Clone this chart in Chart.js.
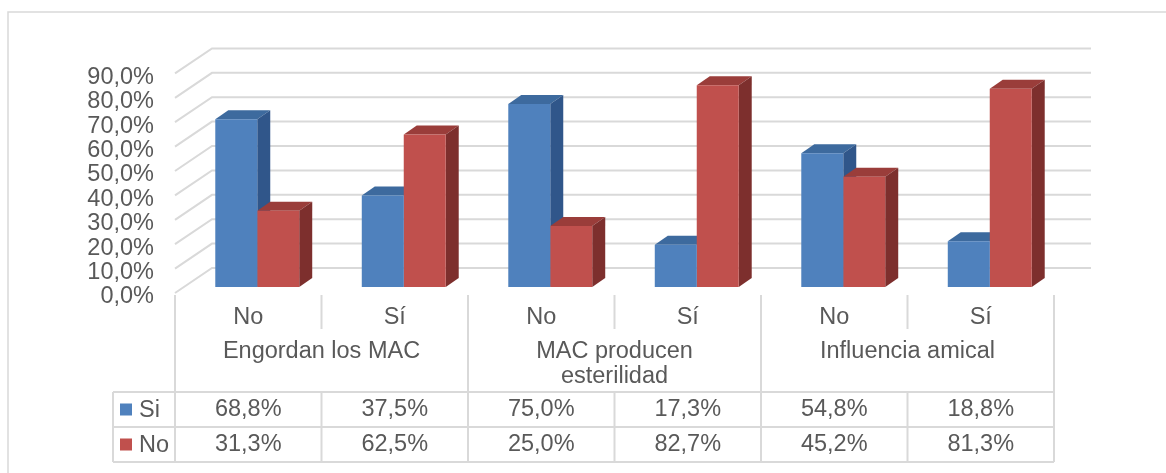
<!DOCTYPE html>
<html>
<head>
<meta charset="utf-8">
<script src="https://cdn.jsdelivr.net/npm/chart.js@4/dist/chart.umd.min.js"></script>
<style>
    body { margin: 0; background: #fff; }
    #wrap { width: 1166px; height: 473px; position: relative; }
</style>
</head>
<body>
<div id="wrap"><canvas id="chart"></canvas></div>
<script>
// Data
const categories = ['No', 'Sí', 'No', 'Sí', 'No', 'Sí'];
const groups = [['Engordan los MAC'], ['MAC producen', 'esterilidad'], ['Influencia amical']];
const seriesNames = ['Si', 'No'];
const siValues = [68.8, 37.5, 75.0, 17.3, 54.8, 18.8];
const noValues = [31.3, 62.5, 25.0, 82.7, 45.2, 81.3];

const FONT = '"Liberation Sans", Arial, sans-serif';
const TEXT = '#595959';
const LINE = '#d9d9d9';
const fronts = ['#4f81bd', '#c0504d'];
const tops = ['#3d6a9e', '#9a3d3a'];
const sides = ['#30568a', '#7d2f2d'];

// 3D offsets, relative to the plane the bars are drawn in
const FRONT_OFF = { dx: -9, dy: 6 };
const BACK_OFF = { dx: 28, dy: -19 };
const DEPTH = { dx: 13, dy: -9 };

function fmt(v) {
    return v.toFixed(1).replace('.', ',') + '%';
}

const threeD = {
    id: 'threeD',
    beforeDraw(chart) {
        const ctx = chart.ctx;
        const y = chart.scales.y;
        const area = chart.chartArea;
        ctx.save();
        // outer frame
        ctx.strokeStyle = LINE;
        ctx.lineWidth = 1.5;
        ctx.beginPath();
        ctx.moveTo(8, 473);
        ctx.lineTo(8, 12);
        ctx.lineTo(1166, 12);
        ctx.stroke();
        // back wall grid + left wall diagonals
        ctx.lineWidth = 2;
        y.ticks.forEach(t => {
            const py = y.getPixelForValue(t.value);
            ctx.beginPath();
            ctx.moveTo(area.left + FRONT_OFF.dx, py + FRONT_OFF.dy);
            ctx.lineTo(area.left + BACK_OFF.dx, py + BACK_OFF.dy);
            ctx.lineTo(area.right + BACK_OFF.dx, py + BACK_OFF.dy);
            ctx.stroke();
        });
        ctx.restore();
    },
    beforeDatasetsDraw(chart) {
        const ctx = chart.ctx;
        ctx.save();
        for (let j = 0; j < categories.length; j++) {
            chart.data.datasets.forEach((ds, i) => {
                const bar = chart.getDatasetMeta(i).data[j];
                const l = bar.x - bar.width / 2;
                const r = bar.x + bar.width / 2;
                // top
                ctx.fillStyle = tops[i];
                ctx.beginPath();
                ctx.moveTo(l, bar.y);
                ctx.lineTo(r, bar.y);
                ctx.lineTo(r + DEPTH.dx, bar.y + DEPTH.dy);
                ctx.lineTo(l + DEPTH.dx, bar.y + DEPTH.dy);
                ctx.closePath();
                ctx.fill();
                // side
                ctx.fillStyle = sides[i];
                ctx.beginPath();
                ctx.moveTo(r, bar.y);
                ctx.lineTo(r + DEPTH.dx, bar.y + DEPTH.dy);
                ctx.lineTo(r + DEPTH.dx, bar.base + DEPTH.dy);
                ctx.lineTo(r, bar.base);
                ctx.closePath();
                ctx.fill();
            });
        }
        ctx.restore();
    },
    afterDraw(chart) {
        const ctx = chart.ctx;
        const x = chart.scales.x;
        const y = chart.scales.y;
        const area = chart.chartArea;
        ctx.save();
        ctx.font = '23.5px ' + FONT;
        ctx.fillStyle = TEXT;

        // y tick labels, aligned on the front edge
        ctx.textAlign = 'right';
        ctx.textBaseline = 'middle';
        y.ticks.forEach(t => {
            ctx.fillText(fmt(t.value), 154, y.getPixelForValue(t.value) + 10);
        });

        const step = (area.right - area.left) / categories.length;
        const x0 = area.left + FRONT_OFF.dx;
        const edge = k => x0 + step * k;
        const catTop = area.bottom + FRONT_OFF.dy + 2;
        const tableTop = 392, rowH = 35;

        // category area lines
        ctx.strokeStyle = LINE;
        ctx.lineWidth = 2;
        ctx.beginPath();
        for (let k = 0; k <= categories.length; k++) {
            ctx.moveTo(edge(k), catTop);
            ctx.lineTo(edge(k), k % 2 === 0 ? tableTop + rowH * 2 : catTop + 34);
        }
        // table
        for (let r = 0; r <= 2; r++) {
            ctx.moveTo(113, tableTop + rowH * r);
            ctx.lineTo(edge(categories.length), tableTop + rowH * r);
        }
        for (let k = 1; k < categories.length; k += 2) {
            ctx.moveTo(edge(k), tableTop);
            ctx.lineTo(edge(k), tableTop + rowH * 2);
        }
        ctx.moveTo(113, tableTop);
        ctx.lineTo(113, tableTop + rowH * 2);
        ctx.stroke();

        // category + group labels
        ctx.textAlign = 'center';
        categories.forEach((c, j) => {
            const cx = x.getPixelForValue(j) + FRONT_OFF.dx;
            ctx.fillText(c, cx, 318);
            ctx.fillText(fmt(siValues[j]), cx, tableTop + rowH / 2);
            ctx.fillText(fmt(noValues[j]), cx, tableTop + rowH * 1.5);
        });
        groups.forEach((g, k) => {
            const cx = (edge(k * 2) + edge(k * 2 + 2)) / 2;
            g.forEach((line, n) => ctx.fillText(line, cx, 352 + n * 25));
        });

        // legend keys in the table
        ctx.textAlign = 'left';
        seriesNames.forEach((s, i) => {
            const cy = tableTop + rowH * (i + 0.5);
            ctx.fillStyle = fronts[i];
            ctx.fillRect(120, cy - 6, 12, 12);
            ctx.fillStyle = TEXT;
            ctx.fillText(s, 139, cy + 1);
        });
        ctx.restore();
    }
};

new Chart(document.getElementById('chart'), {
    type: 'bar',
    data: {
        labels: categories,
        datasets: [
            { label: seriesNames[0], data: siValues, backgroundColor: fronts[0] },
            { label: seriesNames[1], data: noValues, backgroundColor: fronts[1] }
        ]
    },
    options: {
        responsive: true,
        maintainAspectRatio: false,
        animation: false,
        layout: { padding: { left: 184, right: 103, top: 67.4, bottom: 186 } },
        categoryPercentage: 0.573,
        barPercentage: 1,
        plugins: {
            legend: { display: false },
            tooltip: { enabled: false }
        },
        scales: {
            x: { display: false },
            y: { display: false, min: 0, max: 90, ticks: { stepSize: 10 } }
        }
    },
    plugins: [threeD]
});
</script>
</body>
</html>
